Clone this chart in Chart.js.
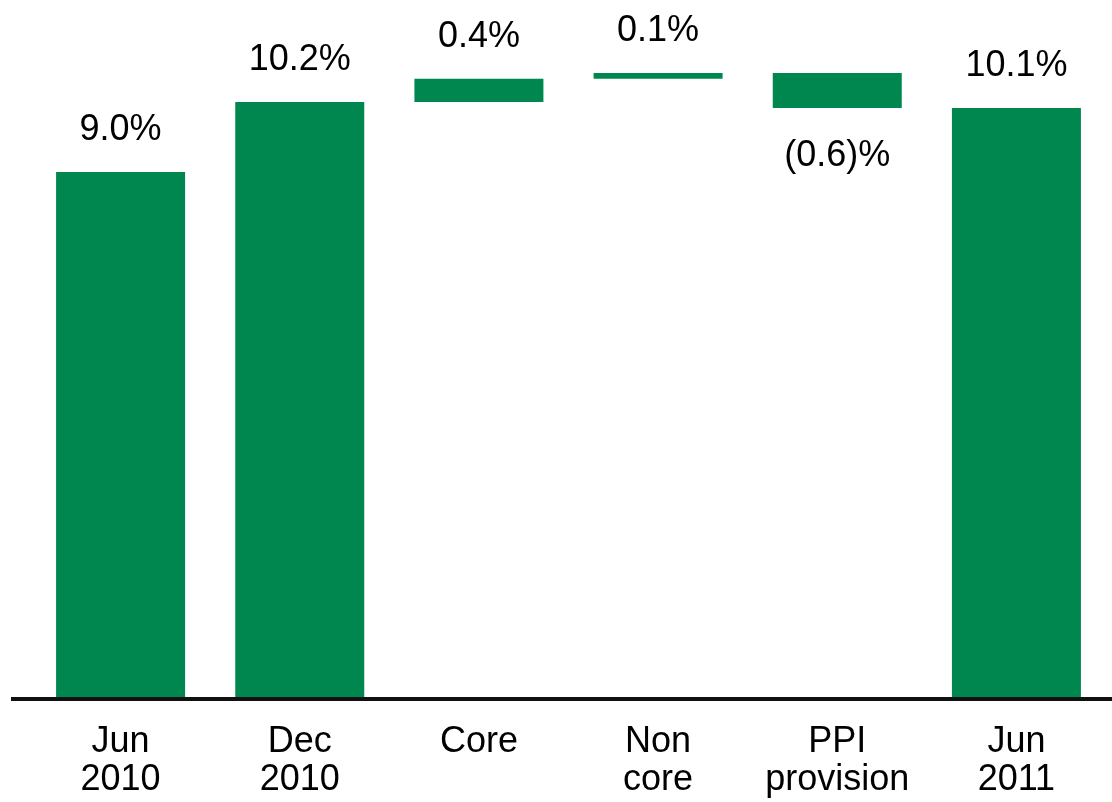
<!DOCTYPE html>
<html>
<head>
<meta charset="utf-8">
<script src="https://cdn.jsdelivr.net/npm/chart.js@4/dist/chart.umd.min.js"></script>
<style>
  html, body { margin: 0; padding: 0; background: #fff; }
  #wrap { width: 1112px; height: 802px; position: relative; }
</style>
</head>
<body>
<div id="wrap"><canvas id="grafico"></canvas></div>
<script>
// categorias y valores (en %)
var categorias = [['Jun', '2010'], ['Dec', '2010'], ['Core'], ['Non', 'core'], ['PPI', 'provision'], ['Jun', '2011']];
var valores = [9.0, 10.2, 0.4, 0.1, -0.6, 10.1];
// true = barra total (desde cero), false = variacion flotante
var esTotal = [true, true, false, false, false, true];

var VERDE = '#00874F';
var FUENTE = '"Liberation Sans", Arial, Helvetica, sans-serif';

// armar los rangos [inicio, fin] de la cascada
var rangos = [];
var acumulado = 0;
for (var i = 0; i < valores.length; i++) {
  if (esTotal[i]) {
    rangos.push([0, valores[i]]);
    acumulado = valores[i];
  } else {
    rangos.push([acumulado, acumulado + valores[i]]);
    acumulado = acumulado + valores[i];
  }
}

function formato(v) {
  if (v < 0) return '(' + Math.abs(v).toFixed(1) + ')%';
  return v.toFixed(1) + '%';
}

// etiquetas de valor encima (o debajo si es negativo)
var etiquetas = {
  id: 'etiquetas',
  afterDatasetsDraw: function (chart) {
    var ctx = chart.ctx;
    var meta = chart.getDatasetMeta(0);
    ctx.save();
    ctx.font = '36px ' + FUENTE;
    ctx.fillStyle = '#000';
    ctx.textAlign = 'center';
    ctx.textBaseline = 'alphabetic';
    meta.data.forEach(function (bar, i) {
      var p = bar.getProps(['x', 'y', 'base'], true);
      var arriba = Math.min(p.y, p.base);
      var abajo = Math.max(p.y, p.base);
      if (valores[i] < 0) {
        ctx.fillText(formato(valores[i]), p.x, abajo + 58);
      } else {
        ctx.fillText(formato(valores[i]), p.x, arriba - 32);
      }
    });
    ctx.restore();
  }
};

// linea base negra
var lineaBase = {
  id: 'lineaBase',
  afterDatasetsDraw: function (chart) {
    var ctx = chart.ctx;
    var y0 = chart.scales.y.getPixelForValue(0);
    ctx.save();
    ctx.strokeStyle = '#111';
    ctx.lineWidth = 4;
    ctx.beginPath();
    ctx.moveTo(11, y0 + 2);
    ctx.lineTo(chart.width, y0 + 2);
    ctx.stroke();
    ctx.restore();
  }
};

window.Cascada = new Chart(document.getElementById('grafico'), {
  type: 'bar',
  data: {
    labels: categorias,
    datasets: [{
      data: rangos,
      backgroundColor: VERDE,
      borderWidth: 0,
      barPercentage: 0.72,
      categoryPercentage: 1.0
    }]
  },
  options: {
    responsive: true,
    maintainAspectRatio: false,
    animation: false,
    layout: { padding: { left: 31, right: 6, top: 0, bottom: 0 } },
    plugins: {
      legend: { display: false },
      tooltip: { enabled: false }
    },
    scales: {
      x: {
        grid: { display: false, drawTicks: false },
        border: { display: false },
        afterFit: function (scale) { scale.height = 105; },
        ticks: {
          color: '#000',
          padding: 26,
          maxRotation: 0,
          autoSkip: false,
          font: { family: FUENTE, size: 36, lineHeight: 1.05 }
        }
      },
      y: {
        display: false,
        min: 0,
        max: 11.95
      }
    }
  },
  plugins: [etiquetas, lineaBase]
});
</script>
</body>
</html>
